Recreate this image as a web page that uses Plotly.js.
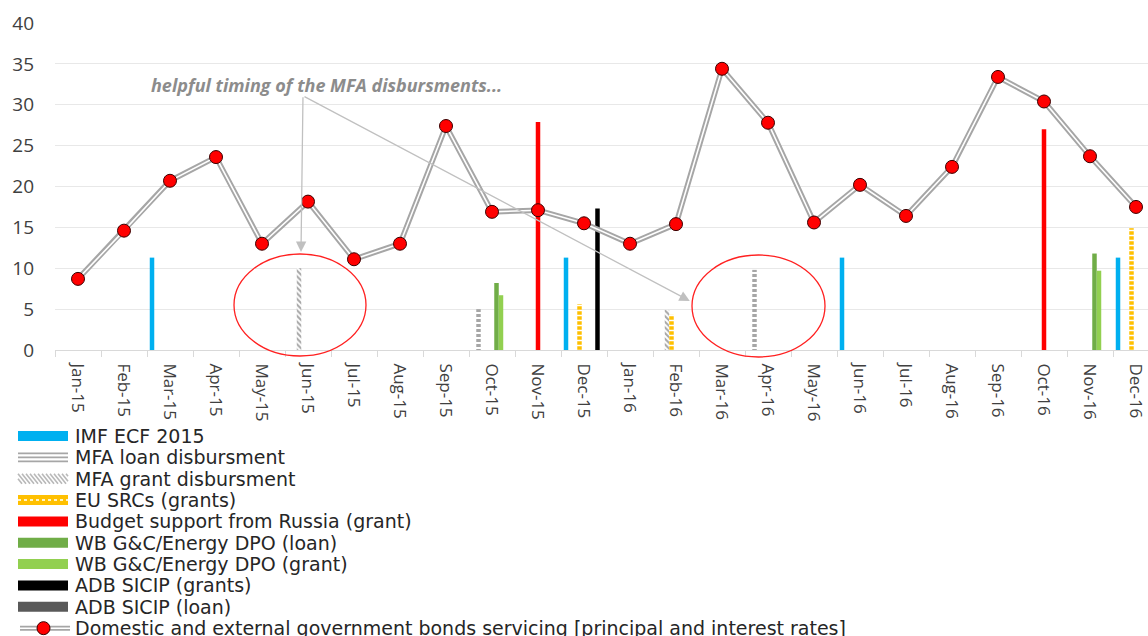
<!DOCTYPE html>
<html>
<head>
<meta charset="utf-8">
<script src="https://cdn.plot.ly/plotly-3.0.1.min.js"></script>
<style>
  html, body { margin: 0; padding: 0; background: #fff; }
  #chart { width: 1148px; height: 636px; }
</style>
</head>
<body>
<div id="chart"></div>
<script>
const N = null;

const months = ['Jan-15','Feb-15','Mar-15','Apr-15','May-15','Jun-15','Jul-15','Aug-15','Sep-15','Oct-15','Nov-15','Dec-15',
                'Jan-16','Feb-16','Mar-16','Apr-16','May-16','Jun-16','Jul-16','Aug-16','Sep-16','Oct-16','Nov-16','Dec-16'];

// Monthly disbursements by source
const imfEcf    = [N,N,11.3,N,N,N,N,N,N,N,N,11.3, N,N,N,N,N,11.3,N,N,N,N,N,11.3];
const mfaLoan   = [N,N,N,N,N,N,N,N,N,5.0,N,N, N,N,N,9.8,N,N,N,N,N,N,N,N];
const mfaGrant  = [N,N,N,N,N,10.0,N,N,N,N,N,N, N,4.9,N,N,N,N,N,N,N,N,N,N];
const euSrc     = [N,N,N,N,N,N,N,N,N,N,N,5.6, N,4.3,N,N,N,N,N,N,N,N,N,14.9];
const russia    = [N,N,N,N,N,N,N,N,N,N,27.9,N, N,N,N,N,N,N,N,N,N,27.0,N,N];
const wbLoan    = [N,N,N,N,N,N,N,N,N,8.2,N,N, N,N,N,N,N,N,N,N,N,N,11.8,N];
const wbGrant   = [N,N,N,N,N,N,N,N,N,6.7,N,N, N,N,N,N,N,N,N,N,N,N,9.7,N];
const adbGrant  = [N,N,N,N,N,N,N,N,N,N,N,17.3, N,N,N,N,N,N,N,N,N,N,N,N];
const adbLoan   = [N,N,N,N,N,N,N,N,N,N,N,N, N,N,N,N,N,N,N,N,N,N,N,N];

// Government bonds servicing
const bondServicing = [8.7,14.6,20.7,23.6,13.0,18.15,11.1,13.0,27.4,16.9,17.1,15.5,
                       13.0,15.4,34.4,27.8,15.6,20.2,16.4,22.4,33.4,30.4,23.7,17.5];

const seriesNames = ['IMF ECF 2015','MFA loan disbursment','MFA grant disbursment','EU SRCs (grants)',
  'Budget support from Russia (grant)','WB G&C/Energy DPO (loan)','WB G&C/Energy DPO (grant)',
  'ADB SICIP (grants)','ADB SICIP (loan)',
  'Domestic and external government bonds servicing [principal and interest rates]'];

const annotationText = 'helpful timing of the MFA disbursments...';

const barSeries = [
  {y: imfEcf,   color: '#00B0F0'},
  {y: mfaLoan,  color: '#ffffff', pattern: {shape: '-', fgcolor: '#a6a6a6', bgcolor: '#ffffff', size: 5, solidity: 0.6}},
  {y: mfaGrant, color: '#ffffff', pattern: {shape: '\\', fgcolor: '#a6a6a6', bgcolor: '#ffffff', size: 4, solidity: 0.5}},
  {y: euSrc,    color: '#FFC000', pattern: {shape: '-', fgcolor: '#ffffff', bgcolor: '#FFC000', size: 5, solidity: 0.3}},
  {y: russia,   color: '#FF0000'},
  {y: wbLoan,   color: '#70AD47'},
  {y: wbGrant,  color: '#92D050'},
  {y: adbGrant, color: '#000000'},
  {y: adbLoan,  color: '#595959'}
];

const traces = barSeries.map((s, i) => {
  const marker = {color: s.color, line: {width: 0}};
  if (s.pattern) marker.pattern = Object.assign({fillmode: 'replace'}, s.pattern);
  return {type: 'bar', name: seriesNames[i], x: months, y: s.y, marker: marker,
          showlegend: false, hoverinfo: 'x+y+name'};
});

// double-line look: wide grey stroke with a thin white core
traces.push({type: 'scatter', mode: 'lines', x: months, y: bondServicing,
  line: {color: '#a6a6a6', width: 5.5}, showlegend: false, hoverinfo: 'skip'});
traces.push({type: 'scatter', mode: 'lines', x: months, y: bondServicing,
  line: {color: '#ffffff', width: 1.6}, showlegend: false, hoverinfo: 'skip'});
traces.push({type: 'scatter', mode: 'markers', name: seriesNames[9], x: months, y: bondServicing,
  marker: {color: '#ff0000', size: 13, line: {color: '#3a0000', width: 1}}, showlegend: false});

// plot frame in page pixels
const L = 55, R = 1148, T = 23, B = 350;
const PX = px => (px - L) / (R - L);
const PY = py => (B - py) / (B - T);

const shapes = [];
const annotations = [];

// ellipses highlighting the MFA disbursements
[[234, 254, 366, 356], [692, 255, 825, 357]].forEach(e => {
  shapes.push({type: 'circle', xref: 'paper', yref: 'paper',
    x0: PX(e[0]), x1: PX(e[2]), y0: PY(e[3]), y1: PY(e[1]),
    line: {color: '#ff2020', width: 1.3}, fillcolor: 'rgba(0,0,0,0)'});
});

annotations.push({x: 5.41, y: 32.4, xref: 'x', yref: 'y', text: '<b><i>' + annotationText + '</i></b>',
  showarrow: false, font: {family: 'Open Sans', size: 18, color: '#8c8c8c'}});
[[4.848, 12.0], [13.3, 6.0]].forEach(p => {
  annotations.push({x: p[0], y: p[1], xref: 'x', yref: 'y', ax: 4.891, ay: 31.1, axref: 'x', ayref: 'y',
    text: '', showarrow: true, arrowhead: 2, arrowsize: 1.6, arrowwidth: 1.3, arrowcolor: '#c0c0c0'});
});

// legend drawn below the plot
const rowY = i => 436 + i * 21.35;
const sx0 = 18, sx1 = 68;
function rect(y, color, h) {
  h = h || 10;
  shapes.push({type: 'rect', xref: 'paper', yref: 'paper', x0: PX(sx0), x1: PX(sx1),
    y0: PY(y + h / 2), y1: PY(y - h / 2), fillcolor: color, line: {width: 0}});
}
function seg(xa, ya, xb, yb, color, width, dash) {
  shapes.push({type: 'line', xref: 'paper', yref: 'paper', x0: PX(xa), x1: PX(xb), y0: PY(ya), y1: PY(yb),
    line: {color: color, width: width, dash: dash || 'solid'}});
}
seriesNames.forEach((name, i) => {
  const y = rowY(i);
  if (i === 1) {
    seg(sx0, y - 4, sx1, y - 4, '#a6a6a6', 1.6);
    seg(sx0, y, sx1, y, '#a6a6a6', 1.6);
    seg(sx0, y + 4, sx1, y + 4, '#a6a6a6', 1.6);
  } else if (i === 2) {
    for (let x = sx0 - 4; x < sx1; x += 4) {
      const xa = Math.max(x, sx0), xb = Math.min(x + 8, sx1);
      const ya = y - 5 + (xa - x) * 10 / 8, yb = y - 5 + (xb - x) * 10 / 8;
      seg(xa, ya, xb, yb, '#b8b8b8', 1.6);
    }
  } else if (i === 3) {
    rect(y, '#FFC000');
    seg(sx0, y, sx1, y, '#fff3c4', 2, 'dot');
  } else if (i === 9) {
    seg(sx0 + 2, y, sx1 + 2, y, '#a6a6a6', 5);
    seg(sx0 + 2, y, sx1 + 2, y, '#ffffff', 1.5);
    shapes.push({type: 'circle', xref: 'paper', yref: 'paper', x0: PX(37), x1: PX(50), y0: PY(y + 6.5), y1: PY(y - 6.5),
      fillcolor: '#ff0000', line: {color: '#3a0000', width: 1}});
  } else {
    rect(y, barSeries[i].color);
  }
  annotations.push({x: PX(74), y: PY(y), xref: 'paper', yref: 'paper', xanchor: 'left', yanchor: 'middle',
    borderpad: 0, text: name, showarrow: false,
    font: {family: 'DejaVu Sans', size: 19, color: '#262626'}});
});

const layout = {
  width: 1148, height: 636,
  margin: {l: L, r: 0, t: T, b: 636 - B, pad: 0},
  paper_bgcolor: '#ffffff', plot_bgcolor: '#ffffff',
  barmode: 'group', bargap: 0.12, bargroupgap: 0,
  showlegend: false,
  font: {family: 'Open Sans', color: '#404040'},
  xaxis: {
    type: 'category', range: [-0.5, -0.5 + (R - L) / 46],
    tickangle: 90, tickfont: {size: 17, color: '#404040'},
    ticks: 'outside', tickson: 'boundaries', ticklen: 6, tickcolor: '#d9d9d9', tickwidth: 1,
    showline: true, linecolor: '#d9d9d9', linewidth: 1, showgrid: false,
    ticklabelstandoff: 9
  },
  yaxis: {
    range: [0, 40], dtick: 5, tick0: 0,
    tickfont: {size: 19, color: '#404040'},
    showgrid: true, gridcolor: '#e8e8e8', gridwidth: 1,
    zeroline: false, showline: false, ticks: '',
    ticklabelstandoff: 20
  },
  shapes: shapes,
  annotations: annotations
};

Plotly.newPlot('chart', traces, layout, {displayModeBar: false, staticPlot: true});
</script>
</body>
</html>
